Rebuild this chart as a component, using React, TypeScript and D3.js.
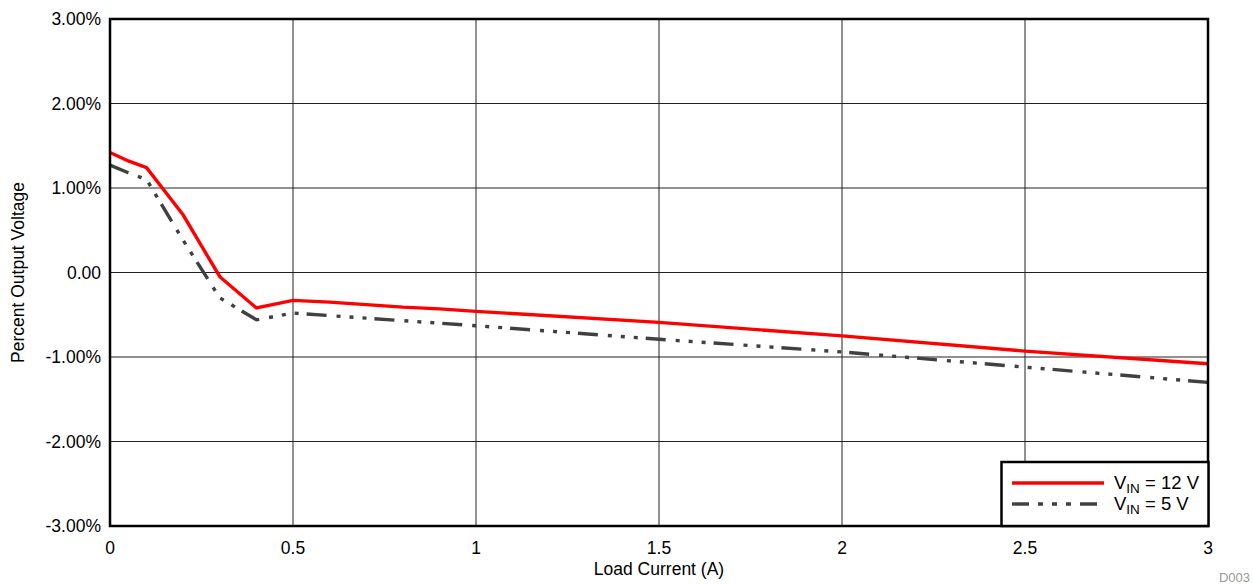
import React from "react";
import * as d3 from "d3";

const loadCurrent = [0, 0.05, 0.1, 0.2, 0.3, 0.4, 0.5, 0.6, 0.7, 0.8, 0.9, 1.0, 1.5, 2.0, 2.5, 3.0];
const vin12 = [1.42, 1.32, 1.24, 0.68, -0.05, -0.42, -0.33, -0.35, -0.38, -0.41, -0.43, -0.46, -0.59, -0.75, -0.93, -1.08];
const vin5 = [1.27, 1.18, 1.1, 0.38, -0.3, -0.56, -0.48, -0.51, -0.54, -0.57, -0.6, -0.63, -0.79, -0.94, -1.12, -1.3];
const xTicks = [0, 0.5, 1, 1.5, 2, 2.5, 3];
const xTickLabels = ["0", "0.5", "1", "1.5", "2", "2.5", "3"];
const yTicks = [3, 2, 1, 0, -1, -2, -3];
const yTickLabels = ["3.00%", "2.00%", "1.00%", "0.00", "-1.00%", "-2.00%", "-3.00%"];

const W = 1253;
const H = 584;
const L = 110, R = 1208, T = 19, B = 526;
const FONT = "'Liberation Sans', Arial, sans-serif";

export default function App() {
  const x = d3.scaleLinear().domain([0, 3]).range([L, R]);
  const y = d3.scaleLinear().domain([-3, 3]).range([B, T]);
  const line = d3.line<number>().x((_, i) => x(loadCurrent[i])).y((d) => y(d));
  const dash = "20 10 4 9 4 9 4 8";
  return (
    <svg width={W} height={H} style={{ position: "absolute", left: 0, top: 0, background: "#fff" }}>
      <rect x={0} y={0} width={W} height={H} fill="#fff" />
      {xTicks.map((t) => (
        <line key={"gx" + t} x1={x(t)} x2={x(t)} y1={T} y2={B} stroke="#222" strokeWidth={1} />
      ))}
      {yTicks.map((t) => (
        <line key={"gy" + t} x1={L} x2={R} y1={y(t)} y2={y(t)} stroke="#222" strokeWidth={1} />
      ))}
      <path d={line(vin5) || ""} fill="none" stroke="#404040" strokeWidth={3.4} strokeDasharray={dash} />
      <path d={line(vin12) || ""} fill="none" stroke="#ff0000" strokeWidth={3.4} />
      <rect x={L} y={T} width={R - L} height={B - T} fill="none" stroke="#000" strokeWidth={2.5} />
      {/* legend */}
      <rect x={1001.5} y={462} width={207} height={64} fill="#fff" stroke="#000" strokeWidth={2.5} />
      <line x1={1012} x2={1104} y1={483} y2={483} stroke="#ff0000" strokeWidth={3.4} />
      <line x1={1012} x2={1104} y1={504} y2={504} stroke="#404040" strokeWidth={3.4} strokeDasharray="17 9 5 9 5 9 5 9" />
      <text x={1114} y={489} fontFamily={FONT} fontSize={18.5} fill="#000">
        V<tspan fontSize={13.5} dy={4}>IN</tspan><tspan dy={-4}> = 12 V</tspan>
      </text>
      <text x={1114} y={510} fontFamily={FONT} fontSize={18.5} fill="#000">
        V<tspan fontSize={13.5} dy={4}>IN</tspan><tspan dy={-4}> = 5 V</tspan>
      </text>
      {yTicks.map((t, i) => (
        <text key={"ty" + t} x={101} y={y(t) + 6} textAnchor="end" fontFamily={FONT} fontSize={17.5} fill="#000">
          {yTickLabels[i]}
        </text>
      ))}
      {xTicks.map((t, i) => (
        <text key={"tx" + t} x={x(t)} y={554} textAnchor="middle" fontFamily={FONT} fontSize={17.5} fill="#000">
          {xTickLabels[i]}
        </text>
      ))}
      <text x={(L + R) / 2} y={575} textAnchor="middle" fontFamily={FONT} fontSize={17.5} fill="#000">
        Load Current (A)
      </text>
      <text transform={`translate(24, ${(T + B) / 2}) rotate(-90)`} textAnchor="middle" fontFamily={FONT} fontSize={17.5} fill="#000">
        Percent Output Voltage
      </text>
      <text x={1250} y={582} textAnchor="end" fontFamily={FONT} fontSize={13} fill="#999">
        D003
      </text>
    </svg>
  );
}
